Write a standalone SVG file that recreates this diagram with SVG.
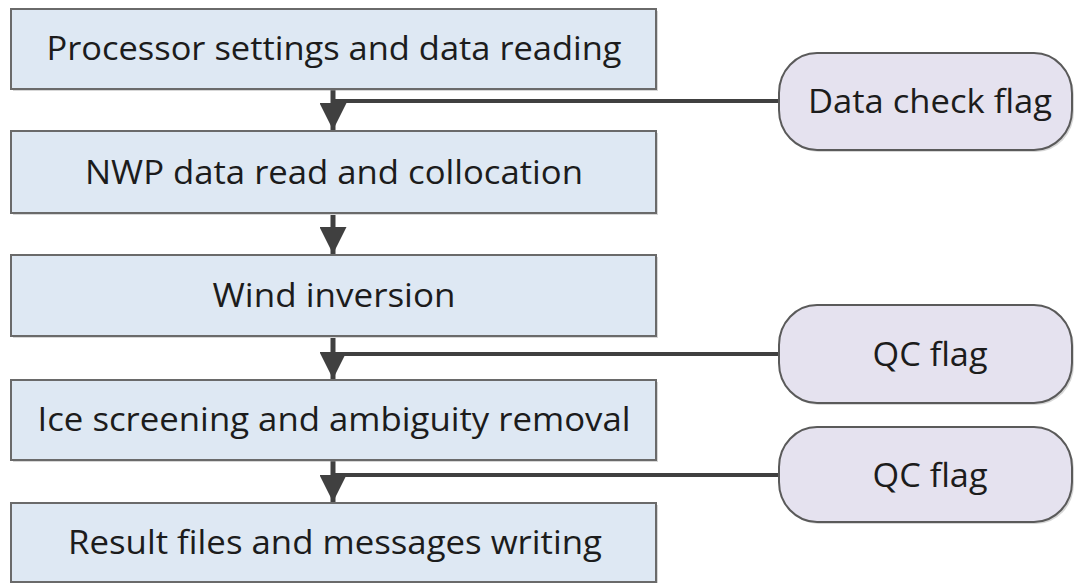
<svg xmlns="http://www.w3.org/2000/svg" width="1074" height="583" viewBox="0 0 1074 583">
  <style>
    .box { fill: #dee8f3; stroke: #6a6a6a; stroke-width: 2; }
    .flag { fill: #e5e2ef; stroke: #5a5a5a; stroke-width: 2; }
    .shadow { fill: #9a9a9a; opacity: 0.4; }
    .lbl { font-family: "Open Sans", "Liberation Sans", sans-serif; font-size: 32px; fill: #1c1c1c; text-anchor: middle; }
    .conn { stroke: #404040; stroke-width: 5; fill: none; }
    .link { stroke: #404040; stroke-width: 4; fill: none; }
  </style>
  <defs>
    <marker id="ah" viewBox="0 0 10 10" refX="10" refY="5" markerWidth="5.4" markerHeight="5.4" markerUnits="strokeWidth" orient="auto">
      <path d="M0,0 L10,5 L0,10 z" fill="#404040"/>
    </marker>
  </defs>

  <g id="connectors">
    <line class="conn" x1="333" y1="90" x2="333" y2="130" marker-end="url(#ah)"/>
    <line class="conn" x1="333" y1="215" x2="333" y2="254" marker-end="url(#ah)"/>
    <line class="conn" x1="333" y1="338" x2="333" y2="379" marker-end="url(#ah)"/>
    <line class="conn" x1="333" y1="461" x2="333" y2="502" marker-end="url(#ah)"/>
    <line class="link" x1="333" y1="101" x2="780" y2="101"/>
    <line class="link" x1="333" y1="354" x2="780" y2="354"/>
    <line class="link" x1="333" y1="475" x2="780" y2="475"/>
  </g>

  <g id="n1">
    <rect class="shadow" x="13" y="11" width="645" height="80"/>
    <rect class="box" x="11" y="9" width="645" height="80"/>
    <text class="lbl" x="334" y="60" textLength="575" lengthAdjust="spacingAndGlyphs">Processor settings and data reading</text>
  </g>
  <g id="n2">
    <rect class="shadow" x="13" y="133" width="645" height="82"/>
    <rect class="box" x="11" y="131" width="645" height="82"/>
    <text class="lbl" x="334" y="184" textLength="498" lengthAdjust="spacingAndGlyphs">NWP data read and collocation</text>
  </g>
  <g id="n3">
    <rect class="shadow" x="13" y="257" width="645" height="81"/>
    <rect class="box" x="11" y="255" width="645" height="81"/>
    <text class="lbl" x="334" y="307" textLength="243" lengthAdjust="spacingAndGlyphs">Wind inversion</text>
  </g>
  <g id="n4">
    <rect class="shadow" x="13" y="382" width="645" height="80"/>
    <rect class="box" x="11" y="380" width="645" height="80"/>
    <text class="lbl" x="334" y="431" textLength="593" lengthAdjust="spacingAndGlyphs">Ice screening and ambiguity removal</text>
  </g>
  <g id="n5">
    <rect class="shadow" x="13" y="505" width="645" height="80"/>
    <rect class="box" x="11" y="503" width="645" height="79"/>
    <text class="lbl" x="335" y="554" textLength="534" lengthAdjust="spacingAndGlyphs">Result files and messages writing</text>
  </g>

  <g id="f1">
    <rect class="shadow" x="781" y="55" width="293" height="97" rx="38" ry="40"/>
    <rect class="flag" x="779" y="53" width="293" height="97" rx="38" ry="40"/>
    <text class="lbl" x="930" y="113" textLength="244" lengthAdjust="spacingAndGlyphs">Data check flag</text>
  </g>
  <g id="f2">
    <rect class="shadow" x="781" y="307" width="293" height="98" rx="38" ry="40"/>
    <rect class="flag" x="779" y="305" width="293" height="98" rx="38" ry="40"/>
    <text class="lbl" x="930" y="366" textLength="115" lengthAdjust="spacingAndGlyphs">QC flag</text>
  </g>
  <g id="f3">
    <rect class="shadow" x="781" y="429" width="293" height="95" rx="38" ry="40"/>
    <rect class="flag" x="779" y="427" width="293" height="95" rx="38" ry="40"/>
    <text class="lbl" x="930" y="487" textLength="115" lengthAdjust="spacingAndGlyphs">QC flag</text>
  </g>
</svg>
